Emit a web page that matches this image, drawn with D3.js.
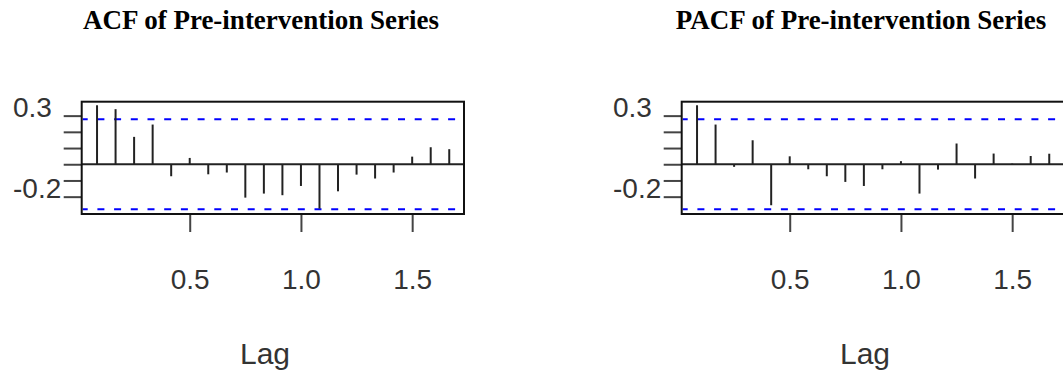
<!DOCTYPE html>
<html>
<head>
<meta charset="utf-8">
<script src="https://cdn.jsdelivr.net/npm/d3@7"></script>
<style>
  body { margin: 0; background: #fff; }
  svg { display: block; }
</style>
</head>
<body>
<div id="chart"></div>
<script>
// lag numbers (in months) and sampling frequency
const lagIndex = [1, 2, 3, 4, 5, 6, 7, 8, 9, 10, 11, 12, 13, 14, 15, 16, 17, 18, 19, 20];
const FREQ = 12;

// values
const acfValues = [0.364, 0.340, 0.169, 0.245, -0.074, 0.039, -0.062, -0.051, -0.206, -0.181,
                   -0.191, -0.134, -0.274, -0.167, -0.064, -0.088, -0.051, 0.047, 0.105, 0.093];
const pacfValues = [0.364, 0.245, -0.016, 0.148, -0.253, 0.049, -0.031, -0.074, -0.109, -0.134,
                    -0.031, 0.019, -0.181, -0.033, 0.128, -0.088, 0.066, 0.004, 0.051, 0.065];
const ciLimit = 0.277;

const yTicks = [-0.2, -0.1, 0, 0.1, 0.2, 0.3];
const yLabels = ["0.3", "-0.2"];
const xTicks = [0.5, 1.0, 1.5];
const titles = ["ACF of Pre-intervention Series", "PACF of Pre-intervention Series"];

const W = 1063, H = 374;
const panelOffset = 600;

let svg = d3.select("#chart").append("svg")
  .attr("width", W)
  .attr("height", H);

// shared scales for one panel (the right panel is shifted by panelOffset)
let xScale = d3.scaleLinear().domain([0.0144, 1.733]).range([81.7, 464]);
let yScale = d3.scaleLinear().domain([-0.307, 0.386]).range([214, 101.7]);

function drawPanel(values, title, i) {
  let g = svg.append("g").attr("transform", "translate(" + (i * panelOffset) + ",0)");

  // title
  g.append("text")
    .attr("x", 261).attr("y", 29)
    .attr("text-anchor", "middle")
    .style("font-family", "'Liberation Serif', 'Times New Roman', serif")
    .style("font-weight", "bold")
    .style("font-size", "27px")
    .attr("fill", "#000")
    .text(title);

  // y ticks (no labels from the axis itself)
  let yAxis = d3.axisLeft(yScale).tickValues(yTicks).tickFormat("").tickSize(18).tickSizeOuter(0);
  let ya = g.append("g").attr("transform", "translate(" + xScale.range()[0] + ",0)").call(yAxis);
  ya.select(".domain").remove();
  ya.selectAll("line").attr("stroke", "#444").attr("stroke-width", 2);

  // y labels, left aligned like the original (plain hyphen for the minus)
  g.selectAll("text.ylab").data(yLabels).enter().append("text")
    .attr("class", "ylab")
    .attr("x", 13)
    .attr("y", d => yScale(+d) + 1.5)
    .style("font-family", "'Liberation Sans', Arial, sans-serif")
    .style("font-size", "28px")
    .attr("fill", "#333")
    .text(d => d);

  // x axis
  let xAxis = d3.axisBottom(xScale).tickValues(xTicks).tickFormat(d3.format(".1f"))
    .tickSize(18).tickSizeOuter(0).tickPadding(37);
  let xa = g.append("g").attr("transform", "translate(0," + yScale.range()[0] + ")").call(xAxis);
  xa.select(".domain").remove();
  xa.selectAll("line").attr("stroke", "#444").attr("stroke-width", 2);
  xa.selectAll("text")
    .style("font-family", "'Liberation Sans', Arial, sans-serif")
    .style("font-size", "28px")
    .attr("fill", "#333");

  // x axis title
  g.append("text")
    .attr("x", 265).attr("y", 364)
    .attr("text-anchor", "middle")
    .style("font-family", "'Liberation Sans', Arial, sans-serif")
    .style("font-size", "30px")
    .attr("fill", "#333")
    .text("Lag");

  let x0 = xScale.range()[0], x1 = xScale.range()[1];

  // zero line
  g.append("line")
    .attr("x1", x0).attr("x2", x1)
    .attr("y1", yScale(0)).attr("y2", yScale(0))
    .attr("stroke", "#222").attr("stroke-width", 2);

  // confidence limits
  g.selectAll("line.ci").data([ciLimit, -ciLimit]).enter().append("line")
    .attr("class", "ci")
    .attr("x1", x0 + 1).attr("x2", x1 - 1)
    .attr("y1", d => yScale(d)).attr("y2", d => yScale(d))
    .attr("stroke", "#0000ff").attr("stroke-width", 2)
    .attr("stroke-dasharray", "7,9.7")
    .attr("stroke-dashoffset", 2);

  // spikes
  g.selectAll("line.spike").data(values).enter().append("line")
    .attr("class", "spike")
    .attr("x1", (d, j) => xScale(lagIndex[j] / FREQ))
    .attr("x2", (d, j) => xScale(lagIndex[j] / FREQ))
    .attr("y1", yScale(0))
    .attr("y2", d => yScale(d))
    .attr("stroke", "#222").attr("stroke-width", 2);

  // plot box
  g.append("rect")
    .attr("x", x0).attr("y", yScale.range()[1])
    .attr("width", x1 - x0).attr("height", yScale.range()[0] - yScale.range()[1])
    .attr("fill", "none")
    .attr("stroke", "#111").attr("stroke-width", 2);
}

drawPanel(acfValues, titles[0], 0);
drawPanel(pacfValues, titles[1], 1);
</script>
</body>
</html>
